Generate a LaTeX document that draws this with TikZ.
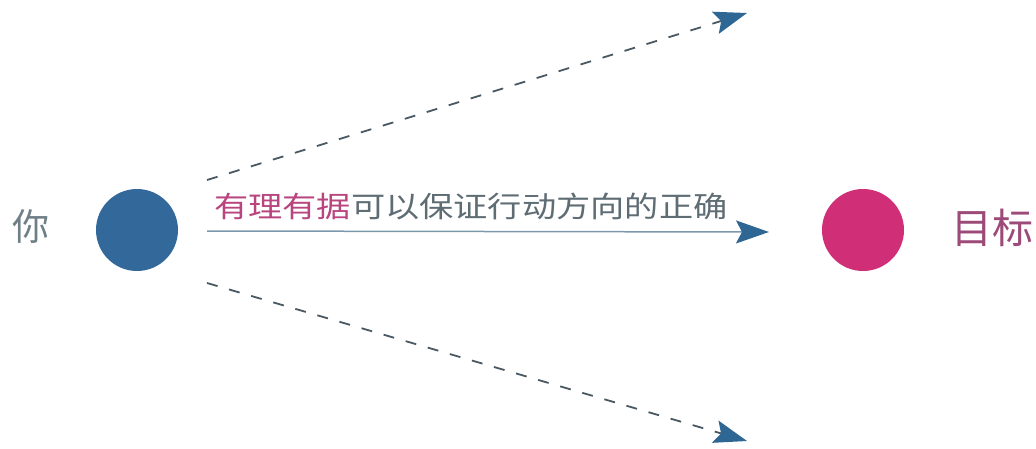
\documentclass[tikz,border=0pt]{standalone}
\usepackage{fontspec}
\setmainfont{Noto Sans CJK SC}
\newfontfamily\cjk{Noto Sans CJK SC}
\usetikzlibrary{arrows.meta}
\definecolor{dotblue}{HTML}{33689A}
\definecolor{dotpink}{HTML}{D12E78}
\definecolor{txtgray}{HTML}{6F7F88}
\definecolor{txtpink}{HTML}{B8457E}
\definecolor{goalpink}{HTML}{9C4A78}
\definecolor{linegray}{HTML}{7C98AC}
\definecolor{dashgray}{HTML}{4A5862}
\definecolor{tipblue}{HTML}{2E6694}
\tikzset{
  dot/.style={circle,minimum size=82pt,inner sep=0pt},
  lbl/.style={inner sep=0pt},
  conn/.style={draw=linegray,line width=1.5pt,-{Stealth[length=33pt,width=23pt,inset=6pt,fill=tipblue,color=tipblue]}},
  dconn/.style={conn,draw=dashgray,line width=1.8pt,dash pattern=on 11pt off 12pt}
}
\begin{document}
\begin{tikzpicture}[x=1pt,y=-1pt]
\useasboundingbox (0,0) rectangle (1036,448);
\node[dot,fill=dotblue] (you) at (137,230) {};
\node[dot,fill=dotpink] (goal) at (863,230) {};
\node[lbl,text=txtgray,font=\cjk\fontsize{37pt}{40pt}\selectfont] (youl) at (31,227) {你};
\node[lbl,text=goalpink,font=\cjk\fontsize{41pt}{44pt}\selectfont] (goall) at (992,228) {目标};
\coordinate (s1) at (207,180);
\coordinate (s2) at (207,231);
\coordinate (s3) at (207,283);
\coordinate (e1) at (747,13);
\coordinate (e2) at (769,232);
\coordinate (e3) at (747,441);
\draw[dconn] (s1) -- (e1);
\draw[conn] (s2) -- (e2);
\draw[dconn] (s3) -- (e3);
\node[lbl,font=\cjk\fontsize{29pt}{31pt}\selectfont,anchor=west,xscale=1.18] (msg) at (214,206) {\textcolor{txtpink}{有理有据}\textcolor{txtgray!85!black}{可以保证行动方向的正确}};
\end{tikzpicture}
\end{document}
